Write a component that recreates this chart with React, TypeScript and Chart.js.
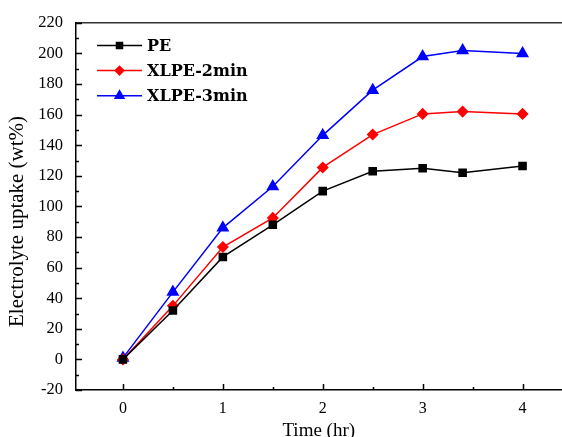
import React, { useEffect, useRef } from "react";
import { Chart, registerables } from "chart.js";
import { drawPoint } from "chart.js/helpers";

Chart.register(...registerables);

const times = [0, 0.5, 1, 1.5, 2, 2.5, 3, 3.4, 4];
const pe = [0, 32, 67, 88, 110, 123, 125, 122, 126.5];
const xlpe2 = [0, 35, 73.5, 92.5, 125.5, 147, 160.5, 162, 160.5];
const xlpe3 = [1, 44, 86, 113, 146.5, 176, 198, 202, 200];
const xTickValues = [0, 1, 2, 3, 4];
const xMinorValues = [0.5, 1.5, 2.5, 3.5];
const yTickValues = [-20, 0, 20, 40, 60, 80, 100, 120, 140, 160, 180, 200, 220];
const yMinorValues = [-10, 10, 30, 50, 70, 90, 110, 130, 150, 170, 190, 210];
const seriesNames = ["PE", "XLPE-2min", "XLPE-3min"];
const yTitle = "Electrolyte uptake (wt%)";
const xTitle = "Time (hr)";

const FONT = "'Liberation Serif', 'Times New Roman', serif";
const LEGEND_FONT = "'DejaVu Serif', serif";

const innerTicks = {
  id: "innerTicks",
  afterDraw(chart: any) {
    const { ctx, chartArea, scales } = chart;
    const xs = scales.x;
    const ys = scales.y;
    ctx.save();
    ctx.strokeStyle = "#000";
    ctx.lineWidth = 1.5;
    ctx.beginPath();
    xTickValues.forEach((v) => {
      const px = Math.round(xs.getPixelForValue(v)) + 0.5;
      ctx.moveTo(px, chartArea.bottom);
      ctx.lineTo(px, chartArea.bottom - 6);
    });
    xMinorValues.forEach((v) => {
      const px = Math.round(xs.getPixelForValue(v)) + 0.5;
      ctx.moveTo(px, chartArea.bottom);
      ctx.lineTo(px, chartArea.bottom - 3);
    });
    yTickValues.forEach((v) => {
      const py = Math.round(ys.getPixelForValue(v)) + 0.5;
      ctx.moveTo(chartArea.left, py);
      ctx.lineTo(chartArea.left + 6, py);
    });
    yMinorValues.forEach((v) => {
      const py = Math.round(ys.getPixelForValue(v)) + 0.5;
      ctx.moveTo(chartArea.left, py);
      ctx.lineTo(chartArea.left + 3, py);
    });
    ctx.stroke();

    // y-axis title, placed a little below the plot's vertical centre as in the source figure
    ctx.fillStyle = "#000";
    ctx.font = `21px ${FONT}`;
    ctx.textAlign = "center";
    ctx.textBaseline = "middle";
    ctx.translate(17, (chartArea.top + chartArea.bottom) / 2 + 15);
    ctx.rotate(-Math.PI / 2);
    ctx.fillText(yTitle, 0, 0);
    ctx.restore();
  },
};

const insideLegend = {
  id: "insideLegend",
  afterDraw(chart: any) {
    const { ctx, chartArea } = chart;
    ctx.save();
    chart.data.datasets.forEach((ds: any, i: number) => {
      const y = chartArea.top + 22.5 + i * 25.2;
      const x0 = chartArea.left + 21;
      const x1 = chartArea.left + 66;
      ctx.strokeStyle = ds.borderColor;
      ctx.lineWidth = 1.5;
      ctx.beginPath();
      ctx.moveTo(x0, y);
      ctx.lineTo(x1, y);
      ctx.stroke();
      ctx.fillStyle = ds.pointBackgroundColor;
      ctx.strokeStyle = ds.borderColor;
      drawPoint(
        ctx,
        { pointStyle: ds.pointStyle, radius: ds.pointRadius * 0.85, rotation: 0, borderWidth: 1 },
        (x0 + x1) / 2,
        y
      );
      ctx.fillStyle = "#000";
      ctx.font = `bold 16px ${LEGEND_FONT}`;
      ctx.textBaseline = "middle";
      ctx.textAlign = "left";
      ctx.fillText(ds.label, chartArea.left + 71, y + 1);
    });
    ctx.restore();
  },
};

function makeData(vals: number[]) {
  return times.map((t, i) => ({ x: t, y: vals[i] }));
}

export default function App() {
  const ref = useRef<HTMLCanvasElement | null>(null);
  useEffect(() => {
    if (!ref.current) return;
    const chart = new Chart(ref.current, {
      type: "line",
      data: {
        datasets: [
          {
            label: seriesNames[0],
            data: makeData(pe),
            borderColor: "#000000",
            backgroundColor: "#000000",
            pointBackgroundColor: "#000000",
            pointBorderColor: "#000000",
            pointStyle: "rect",
            pointRadius: 5,
            borderWidth: 1.5,
          },
          {
            label: seriesNames[1],
            data: makeData(xlpe2),
            borderColor: "#ff0000",
            backgroundColor: "#ff0000",
            pointBackgroundColor: "#ff0000",
            pointBorderColor: "#ff0000",
            pointStyle: "rectRot",
            pointRadius: 5,
            borderWidth: 1.5,
          },
          {
            label: seriesNames[2],
            data: makeData(xlpe3),
            borderColor: "#0000ff",
            backgroundColor: "#0000ff",
            pointBackgroundColor: "#0000ff",
            pointBorderColor: "#0000ff",
            pointStyle: "triangle",
            pointRadius: 6,
            borderWidth: 1.5,
          },
        ],
      },
      options: {
        animation: false,
        responsive: false,
        maintainAspectRatio: false,
        layout: { padding: 0 },
        plugins: { legend: { display: false }, tooltip: { enabled: false } },
        scales: {
          x: {
            type: "linear",
            position: "bottom",
            min: -0.47,
            max: 4.39,
            afterBuildTicks: (s: any) => {
              s.ticks = xTickValues.map((v) => ({ value: v }));
            },
            afterFit: (s: any) => {
              s.height = 47;
            },
            grid: { display: false, drawTicks: false },
            border: { display: true, color: "#000", width: 1.5 },
            ticks: {
              color: "#000",
              font: { family: FONT, size: 16 },
              padding: 9,
              maxRotation: 0,
            },
            title: {
              display: true,
              text: xTitle,
              color: "#000",
              font: { family: FONT, size: 19 },
              padding: { top: 0, bottom: -5 },
            },
          },
          x2: {
            type: "linear",
            position: "top",
            min: -0.47,
            max: 4.39,
            afterFit: (s: any) => {
              s.height = 22;
            },
            grid: { display: false, drawTicks: false },
            border: { display: true, color: "#333", width: 1.5 },
            ticks: { display: false },
          },
          y: {
            type: "linear",
            position: "left",
            min: -20,
            max: 220,
            afterBuildTicks: (s: any) => {
              s.ticks = yTickValues.map((v) => ({ value: v }));
            },
            afterFit: (s: any) => {
              s.width = 76;
            },
            grid: { display: false, drawTicks: false },
            border: { display: true, color: "#000", width: 1.5 },
            ticks: {
              color: "#000",
              font: { family: FONT, size: 16.5 },
              padding: 13,
            },
            title: { display: false },
          },
        },
      },
      plugins: [innerTicks, insideLegend],
    });
    return () => chart.destroy();
  }, []);
  return (
    <div
      style={{
        position: "fixed",
        left: 0,
        top: 0,
        width: 562,
        height: 437,
        overflow: "hidden",
        background: "#fff",
      }}
    >
      <canvas ref={ref} width={569} height={437} style={{ display: "block" }} />
    </div>
  );
}
